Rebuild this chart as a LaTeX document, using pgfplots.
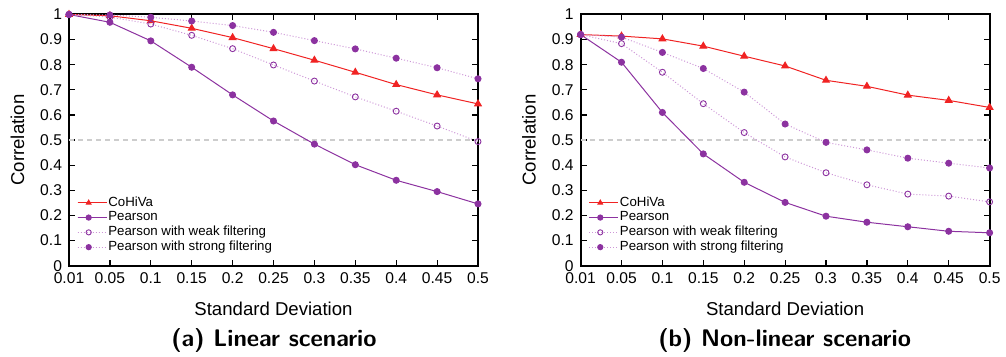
\documentclass[border=0pt]{standalone}
\usepackage{pgfplots}
\pgfplotsset{compat=1.18}
\usepackage{pgfplotstable}
\usepackage{fontspec}
\setmainfont{Liberation Sans}
\definecolor{cred}{RGB}{240,35,35}
\definecolor{cpur}{RGB}{140,50,160}
\definecolor{clpur}{RGB}{205,150,215}
\definecolor{cgrid}{RGB}{205,205,205}

% x index: 0..10 for 0.01,0.05,...,0.5
\pgfplotstableread{
x coh pea weak strong
0 1.000 1.000 1.000 1.000
1 0.995 0.969 0.990 0.998
2 0.975 0.895 0.962 0.989
3 0.945 0.790 0.917 0.974
4 0.908 0.680 0.864 0.956
5 0.864 0.576 0.799 0.929
6 0.818 0.484 0.735 0.896
7 0.770 0.402 0.672 0.863
8 0.721 0.340 0.615 0.826
9 0.680 0.295 0.556 0.788
10 0.644 0.246 0.494 0.744
}\linear
\pgfplotstableread{
x coh pea weak strong
0 0.920 0.920 0.920 0.920
1 0.914 0.810 0.884 0.910
2 0.903 0.610 0.770 0.849
3 0.874 0.445 0.645 0.785
4 0.834 0.332 0.530 0.691
5 0.795 0.252 0.433 0.564
6 0.738 0.197 0.370 0.491
7 0.714 0.173 0.322 0.461
8 0.679 0.155 0.285 0.428
9 0.658 0.137 0.277 0.408
10 0.630 0.131 0.254 0.389
}\nonlinear

\pgfplotsset{
  myaxis/.style={
    scale only axis, width=204.5pt, height=125.6pt,
    anchor=south west,
    xmin=0, xmax=10, ymin=0, ymax=1,
    xtick={0,...,10},
    xticklabels={0.01,0.05,0.1,0.15,0.2,0.25,0.3,0.35,0.4,0.45,0.5},
    ytick={0,0.1,...,1.01},
    yticklabels={0,0.1,0.2,0.3,0.4,0.5,0.6,0.7,0.8,0.9,1},
    tick align=inside,
    major tick length=3pt,
    tick style={black, line width=0.6pt},
    axis line style={black, line width=1pt},
    ticklabel style={font=\fontsize{7.8}{9}\selectfont},
    /pgf/number format/assume math mode=true,
    xlabel={Standard Deviation},
    ylabel={Correlation},
    label style={font=\fontsize{9.3}{11}\selectfont},
    xlabel style={at={(axis description cs:0.5,-0.172)}, anchor=center},
    ylabel style={at={(axis description cs:-0.126,0.5)}, anchor=center},
    clip=false,
    legend style={
      at={(axis description cs:0.02,0.28)}, anchor=north west,
      draw=none, fill=none, inner sep=0pt, outer sep=0pt,
      font=\fontsize{6.63}{7.25}\selectfont,
      nodes={inner sep=0.6pt, text height=4.8pt, text depth=1.4pt},
      row sep=0pt,
    },
    legend cell align=left,
    legend image code/.code={
      \path (0pt,0pt) -- (14.5pt,0pt);
      \draw[#1] (0pt,0pt) -- (11pt,0pt);
      \draw[#1, only marks, mark size=1.3pt] plot coordinates {(5.5pt,0pt)};
    },
  },
  coh/.style={cred, line width=0.5pt, mark=triangle*, mark size=1.9pt, mark options={solid, fill=cred, draw=cred}},
  pea/.style={cpur, line width=0.5pt, mark=*, mark size=1.5pt, mark options={solid, fill=cpur, draw=cpur}},
  weak/.style={clpur, line width=0.5pt, densely dotted, mark=o, mark size=1.5pt, mark options={solid, draw=cpur, line width=0.45pt}},
  strong/.style={clpur, line width=0.5pt, densely dotted, mark=*, mark size=1.5pt, mark options={solid, fill=cpur, draw=cpur}},
}

\begin{document}
\begin{tikzpicture}
\useasboundingbox (0,0) rectangle (503pt,178.5pt);

\begin{axis}[myaxis, at={(34.5pt,45.65pt)}]
\addplot[cgrid, line width=0.6pt, dash pattern=on 2.5pt off 2pt, forget plot] coordinates {(0,0.5) (10,0.5)};
\addplot[coh] table[x=x,y=coh] {\linear};
\addlegendentry{CoHiVa}
\addplot[pea] table[x=x,y=pea] {\linear};
\addlegendentry{Pearson}
\addplot[weak] table[x=x,y=weak] {\linear};
\addlegendentry{Pearson with weak filtering}
\addplot[strong] table[x=x,y=strong] {\linear};
\addlegendentry{Pearson with strong filtering}
\end{axis}

\begin{axis}[myaxis, at={(290.3pt,45.65pt)}]
\addplot[cgrid, line width=0.6pt, dash pattern=on 2.5pt off 2pt, forget plot] coordinates {(0,0.5) (10,0.5)};
\addplot[coh] table[x=x,y=coh] {\nonlinear};
\addlegendentry{CoHiVa}
\addplot[pea] table[x=x,y=pea] {\nonlinear};
\addlegendentry{Pearson}
\addplot[weak] table[x=x,y=weak] {\nonlinear};
\addlegendentry{Pearson with weak filtering}
\addplot[strong] table[x=x,y=strong] {\nonlinear};
\addlegendentry{Pearson with strong filtering}
\end{axis}

\node[font=\sffamily\bfseries\fontsize{12}{14}\selectfont] at (137pt,8pt) {(a) Linear scenario};
\node[font=\sffamily\bfseries\fontsize{12}{14}\selectfont] at (392.3pt,8pt) {(b) Non-linear scenario};
\end{tikzpicture}
\end{document}
